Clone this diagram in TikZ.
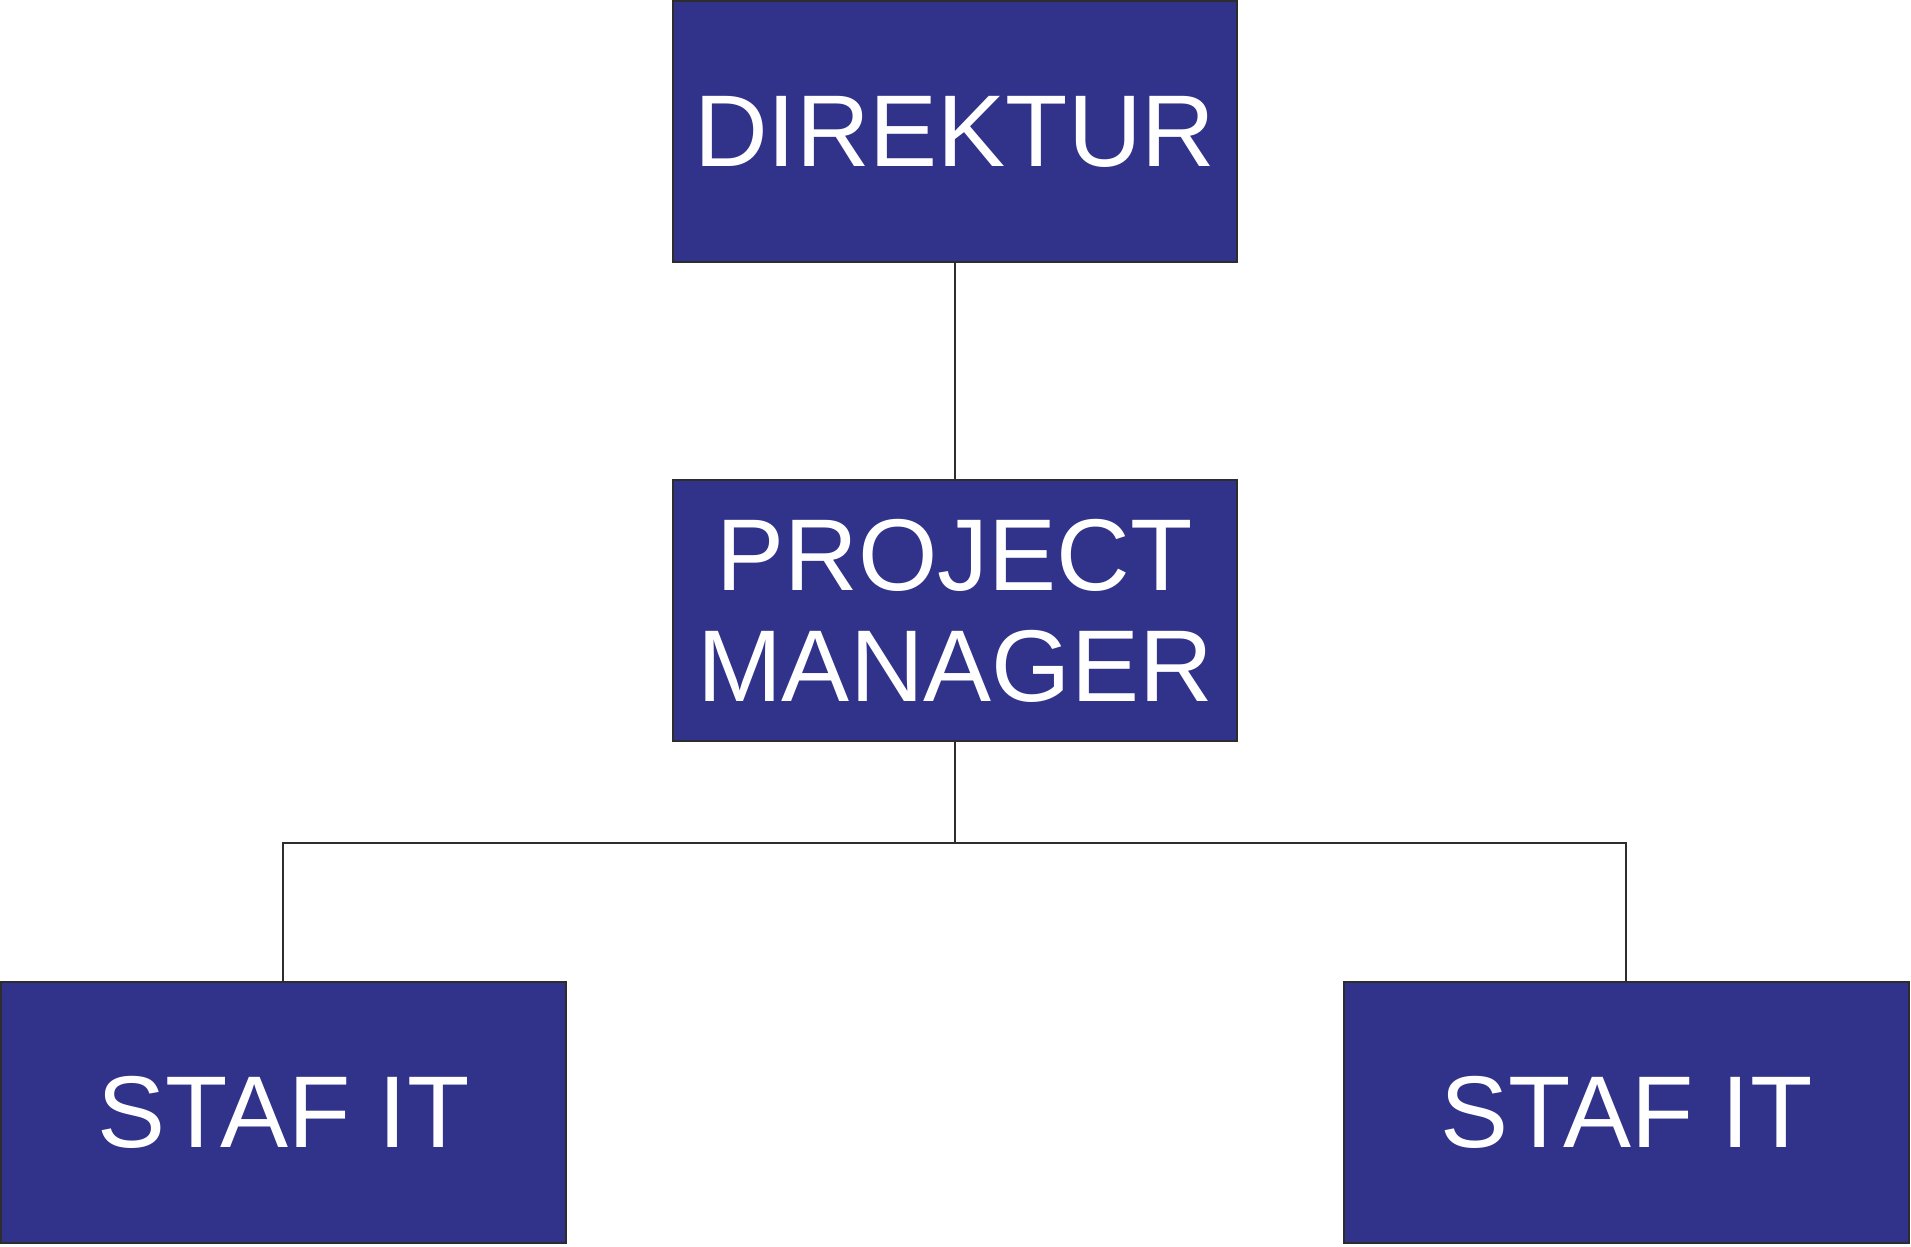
\documentclass[tikz,border=0pt]{standalone}
\usepackage{fontspec}
\setmainfont{Liberation Sans}
\definecolor{boxblue}{RGB}{48,51,137}
\definecolor{edgegray}{RGB}{45,45,45}
\begin{document}
\begin{tikzpicture}[x=0.01cm,y=-0.01cm,
  orgbox/.style={draw=edgegray, line width=0.45pt, fill=boxblue, text=white,
    minimum width=4.63cm, minimum height=2.14cm, inner sep=0pt, align=center,
    font=\fontsize{23.8}{25.9}\selectfont},
  conn/.style={draw=edgegray, line width=0.45pt}]
\useasboundingbox (0,0) rectangle (1568,1022.4);
\node[orgbox] (dir) at (783.5,108) {DIREKTUR};
\node[orgbox] (pm) at (783.5,501) {PROJECT\\MANAGER};
\node[orgbox] (s1) at (232.5,913) {STAF IT};
\node[orgbox] (s2) at (1334.5,913) {STAF IT};
\coordinate (j) at (783.5,692);
\draw[conn] (dir.south) -- (pm.north);
\draw[conn] (pm.south) -- (j);
\draw[conn] (s1.north) |- (j) -| (s2.north);
\end{tikzpicture}
\end{document}
